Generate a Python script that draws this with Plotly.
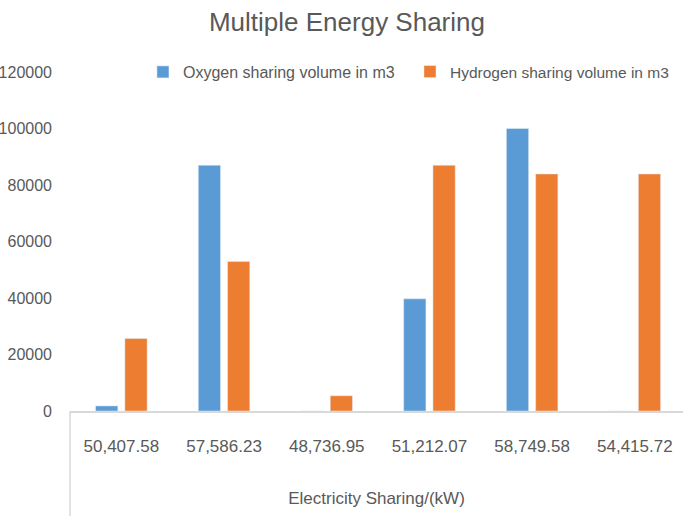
import plotly.graph_objects as go

# Data
categories = ["50,407.58", "57,586.23", "48,736.95", "51,212.07", "58,749.58", "54,415.72"]
oxygen = [1800, 87000, 0, 39700, 100000, 0]
hydrogen = [25700, 52900, 5400, 87000, 83900, 83900]

FONT = "Liberation Sans, Arial, sans-serif"
GREY = "#595959"

fig = go.Figure()

# Oxygen bars
fig.add_trace(go.Bar(
    x=categories,
    y=oxygen,
    name="Oxygen sharing volume in m3",
    marker=dict(color="#5B9BD5"),
    legend="legend",
))

# Hydrogen bars
fig.add_trace(go.Bar(
    x=categories,
    y=hydrogen,
    name="Hydrogen sharing volume in m3",
    marker=dict(color="#ED7D31"),
    legend="legend2",
))

legend_style = dict(
    orientation="h",
    y=1.0,
    yanchor="middle",
    xanchor="left",
    bgcolor="rgba(0,0,0,0)",
)

fig.update_layout(
    width=683,
    height=516,
    paper_bgcolor="white",
    plot_bgcolor="white",
    font=dict(family=FONT, size=16, color=GREY),
    title=dict(
        text="Multiple Energy Sharing",
        x=0.508,
        xanchor="center",
        y=0.957,
        yanchor="middle",
        font=dict(family=FONT, size=26, color=GREY),
    ),
    barmode="group",
    bargap=0.43,
    bargroupgap=0.24,
    margin=dict(l=70, r=0, t=72, b=105, autoexpand=False),
    showlegend=True,
    legend=dict(x=0.119, font=dict(family=FONT, size=16, color=GREY), **legend_style),
    legend2=dict(x=0.5546, font=dict(family=FONT, size=15.5, color=GREY), **legend_style),
)

fig.update_xaxes(
    range=[-0.5, 5.469],
    automargin=False,
    showline=True,
    linecolor="#D9D9D9",
    linewidth=2,
    showgrid=False,
    ticks="",
    ticklabelstandoff=19,
    title=dict(text="Electricity Sharing/(kW)", standoff=37,
               font=dict(family=FONT, size=17, color=GREY)),
    tickfont=dict(family=FONT, size=17, color=GREY),
)

fig.update_yaxes(
    range=[0, 120000],
    automargin=False,
    tickvals=[0, 20000, 40000, 60000, 80000, 100000, 120000],
    tickformat="d",
    showgrid=False,
    zeroline=False,
    showline=False,
    ticks="",
    ticklabelstandoff=17,
    tickfont=dict(family=FONT, size=16, color=GREY),
)

# Thin left border below the category axis
fig.add_shape(
    type="line",
    xref="paper", yref="paper",
    x0=0, x1=0, y0=0, y1=-0.32,
    line=dict(color="#D9D9D9", width=1.5),
)

# drop the default page margin so the figure fills the window, and hide the modebar
fig.write_html(
    "out.html",
    config={"displayModeBar": False},
    post_script="document.body.style.margin = '0';",
)
